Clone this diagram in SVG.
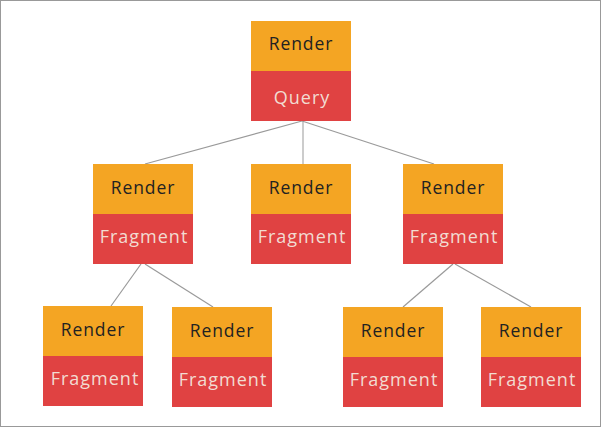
<svg xmlns="http://www.w3.org/2000/svg" width="602" height="427" viewBox="0 0 602 427">
<style>
.top{fill:#F4A523}
.bot{fill:#E04242}
.t1{font-family:"Open Sans","Liberation Sans",sans-serif;font-size:17.5px;letter-spacing:0.9px;fill:#222;text-anchor:middle}
.t2{font-family:"Open Sans","Liberation Sans",sans-serif;font-size:18px;letter-spacing:1px;fill:#F2DCD2;text-anchor:middle}
.ln{stroke:#9a9a9a;stroke-width:1.2;fill:none}
.vl{stroke:#cccccc;stroke-width:2;fill:none}
</style>
<rect x="0.5" y="0.5" width="600" height="426" fill="#fff" stroke="#999" stroke-width="1"/>
<g id="connectors">
<line class="ln" x1="302" y1="121" x2="145" y2="164"/>
<line class="vl" x1="303" y1="121" x2="303" y2="164"/>
<line class="ln" x1="302" y1="121" x2="434" y2="164"/>
<line class="ln" x1="141" y1="264" x2="111" y2="306"/>
<line class="ln" x1="145" y1="264" x2="213" y2="307"/>
<line class="ln" x1="453" y1="264" x2="403" y2="307"/>
<line class="ln" x1="455" y1="264" x2="531" y2="307"/>
</g>
<g id="n-root">
<rect class="top" x="251" y="21" width="100" height="50"/>
<rect class="bot" x="251" y="71" width="100" height="50"/>
<text class="t1" x="301" y="50">Render</text>
<text class="t2" x="302" y="104">Query</text>
</g>
<g id="n-l">
<rect class="top" x="93" y="164" width="100" height="50"/>
<rect class="bot" x="93" y="214" width="100" height="50"/>
<text class="t1" x="143" y="194">Render</text>
<text class="t2" x="144" y="243">Fragment</text>
</g>
<g id="n-m">
<rect class="top" x="251" y="164" width="100" height="50"/>
<rect class="bot" x="251" y="214" width="100" height="50"/>
<text class="t1" x="301" y="194">Render</text>
<text class="t2" x="302" y="243">Fragment</text>
</g>
<g id="n-r">
<rect class="top" x="403" y="164" width="100" height="50"/>
<rect class="bot" x="403" y="214" width="100" height="50"/>
<text class="t1" x="453" y="194">Render</text>
<text class="t2" x="454" y="243">Fragment</text>
</g>
<g id="n-ll">
<rect class="top" x="43" y="306" width="100" height="50"/>
<rect class="bot" x="43" y="356" width="100" height="50"/>
<text class="t1" x="93" y="336">Render</text>
<text class="t2" x="95" y="385">Fragment</text>
</g>
<g id="n-lr">
<rect class="top" x="172" y="307" width="100" height="50"/>
<rect class="bot" x="172" y="357" width="100" height="50"/>
<text class="t1" x="222" y="337">Render</text>
<text class="t2" x="223" y="386">Fragment</text>
</g>
<g id="n-rl">
<rect class="top" x="343" y="307" width="100" height="50"/>
<rect class="bot" x="343" y="357" width="100" height="50"/>
<text class="t1" x="393" y="337">Render</text>
<text class="t2" x="394" y="386">Fragment</text>
</g>
<g id="n-rr">
<rect class="top" x="481" y="307" width="100" height="50"/>
<rect class="bot" x="481" y="357" width="100" height="50"/>
<text class="t1" x="531" y="337">Render</text>
<text class="t2" x="532" y="386">Fragment</text>
</g>
</svg>
